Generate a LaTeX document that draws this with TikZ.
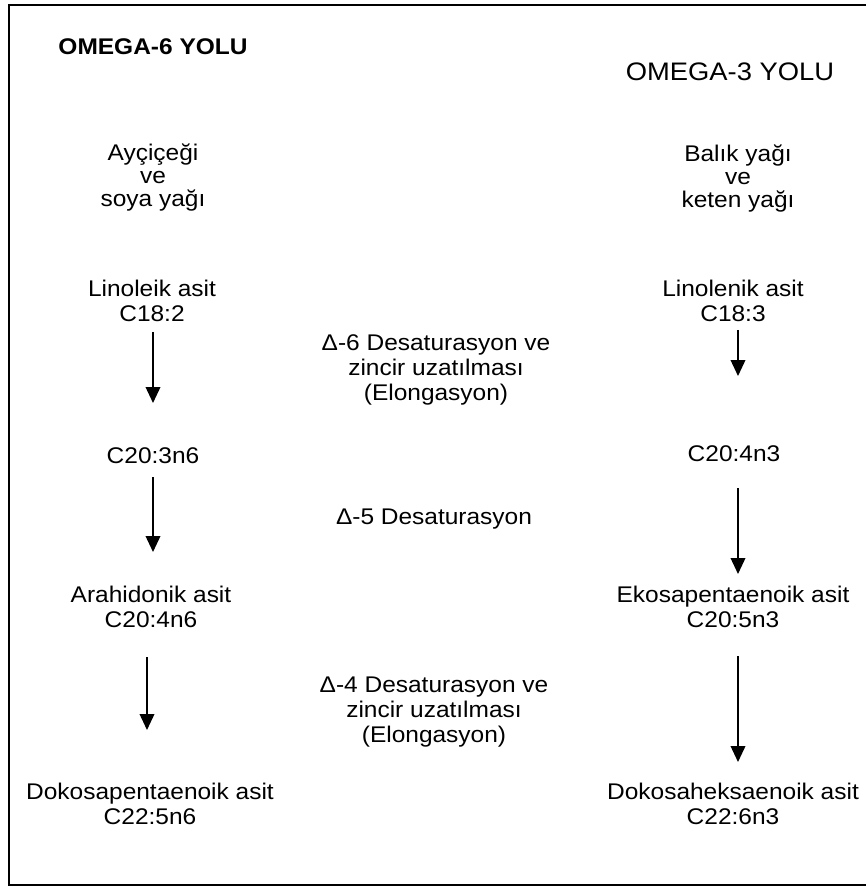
\documentclass[tikz,border=0pt]{standalone}
\usepackage{fontspec}
\setmainfont{Liberation Sans}[FakeStretch=1.08]
\usetikzlibrary{arrows.meta}
\begin{document}
\begin{tikzpicture}[x=0.75pt,y=-0.75pt,
  txt/.style={inner sep=0pt, align=center, anchor=base, font=\fontsize{17}{18.5}\selectfont},
  mid/.style={txt, font=\fontsize{17}{18.75}\selectfont},
  src/.style={txt, font=\fontsize{17}{17.6}\selectfont},
  flow/.style={-{Triangle[width=11pt,length=12pt]}, line width=1.2pt},
  frame/.style={line width=1.4pt}]
\useasboundingbox (0,0) rectangle (866,887);
% frame (open on the right)
\coordinate (fr1) at (866,5);
\coordinate (fr2) at (9,5);
\coordinate (fr3) at (9,885);
\coordinate (fr4) at (866,885);
\draw[frame] (fr1) -- (fr2) -- (fr3) -- (fr4);
% titles (anchor = baseline of last line)
\node[txt, font=\bfseries\fontsize{17}{20}\selectfont] (t6) at (153,55) {OMEGA-6 YOLU};
\node[txt, font=\fontsize{19}{22}\selectfont] (t3) at (730,81) {OMEGA-3 YOLU};
% sources
\node[src] (src6) at (153,207) {Ayçiçeği\\ve\\soya yağı};
\node[src] (src3) at (738,208) {Balık yağı\\ve\\keten yağı};
% left column
\node[txt] (la) at (152,321) {Linoleik asit\\C18:2};
\node[txt] (c203) at (153,463) {C20:3n6};
\node[txt] (ara) at (151,627) {Arahidonik asit\\C20:4n6};
\node[txt] (dpa) at (150,824) {Dokosapentaenoik asit\\C22:5n6};
% right column
\node[txt] (ln) at (733,321) {Linolenik asit\\C18:3};
\node[txt] (c204) at (734,461) {C20:4n3};
\node[txt] (eko) at (733,627) {Ekosapentaenoik asit\\C20:5n3};
\node[txt] (dha) at (733,824) {Dokosaheksaenoik asit\\C22:6n3};
% middle
\node[mid] (d6) at (436,400) {Δ-6 Desaturasyon ve\\zincir uzatılması\\(Elongasyon)};
\node[mid] (d5) at (434,524) {Δ-5 Desaturasyon};
\node[mid] (d4) at (434,742) {Δ-4 Desaturasyon ve\\zincir uzatılması\\(Elongasyon)};
% arrow end points
\coordinate (l1a) at (153,332); \coordinate (l1b) at (153,403);
\coordinate (l2a) at (153,477); \coordinate (l2b) at (153,552);
\coordinate (l3a) at (147,657); \coordinate (l3b) at (147,730);
\coordinate (r1a) at (738,330); \coordinate (r1b) at (738,376);
\coordinate (r2a) at (738,488); \coordinate (r2b) at (738,574);
\coordinate (r3a) at (738,656); \coordinate (r3b) at (738,762);
\draw[flow] (l1a) -- (l1b);
\draw[flow] (l2a) -- (l2b);
\draw[flow] (l3a) -- (l3b);
\draw[flow] (r1a) -- (r1b);
\draw[flow] (r2a) -- (r2b);
\draw[flow] (r3a) -- (r3b);
\end{tikzpicture}
\end{document}
